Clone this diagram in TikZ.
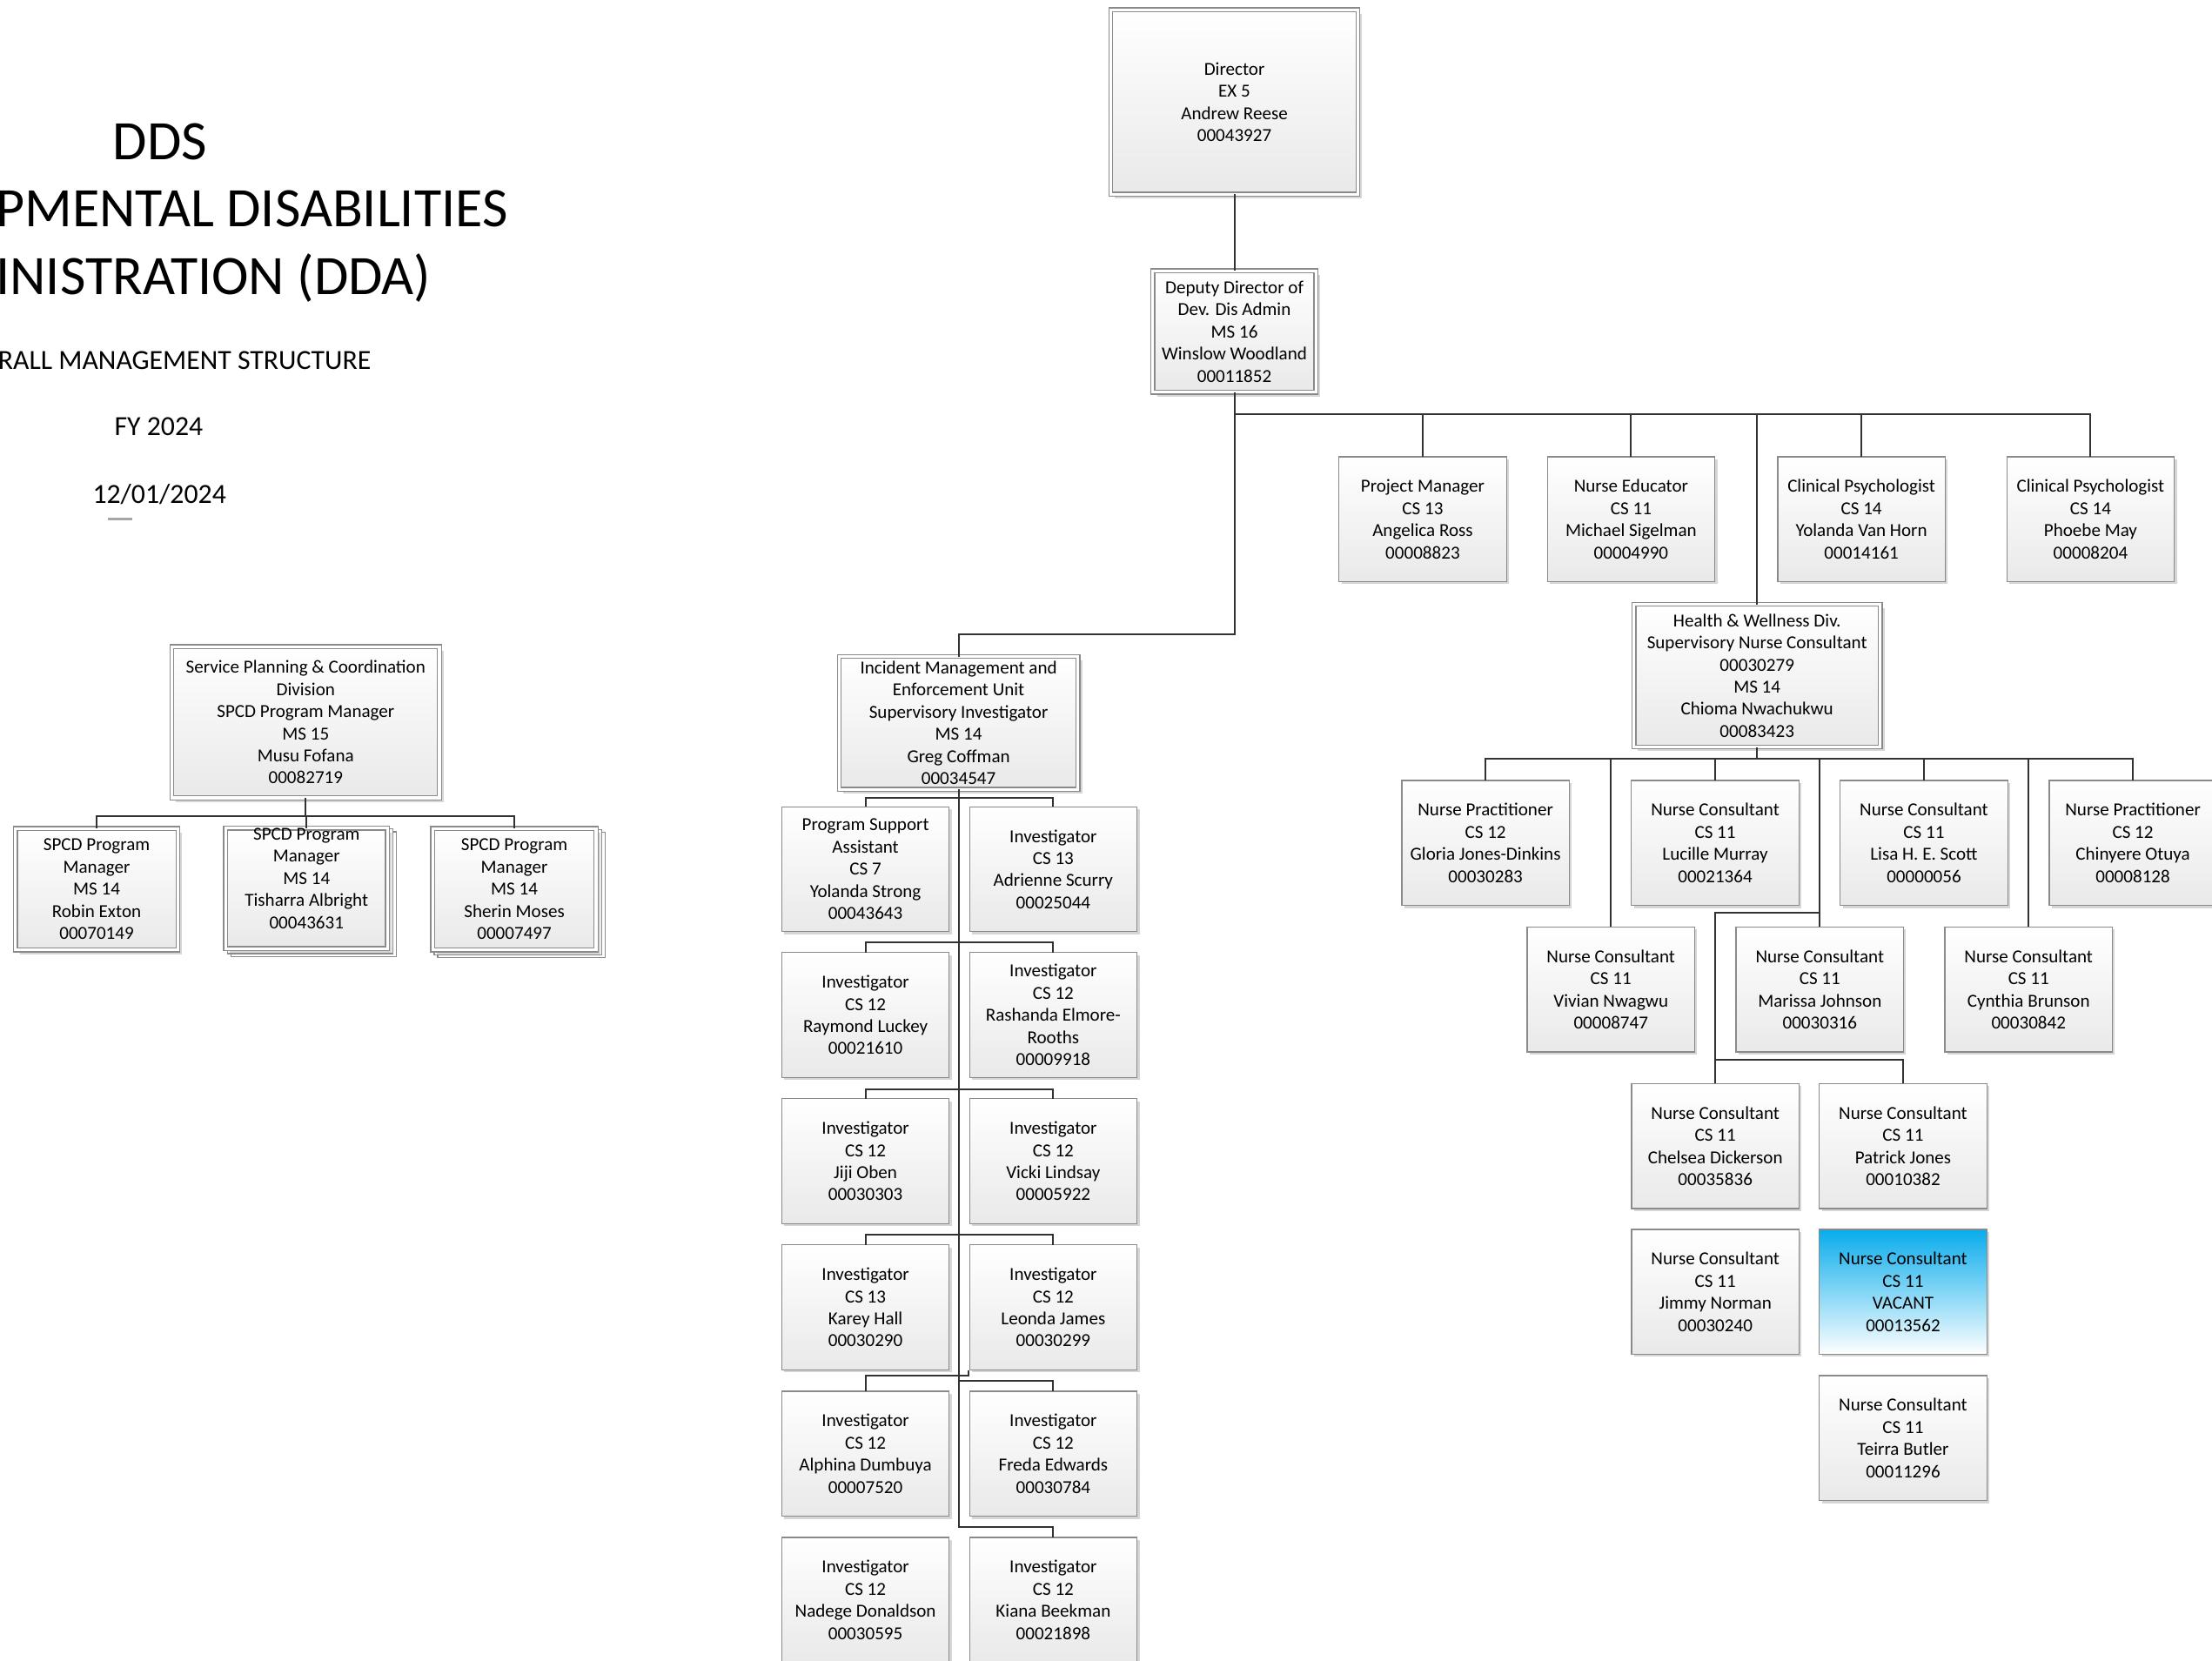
\documentclass[tikz,border=0pt]{standalone}
\usepackage{fontspec}
\setmainfont{Carlito}
\usetikzlibrary{shadows}
\definecolor{boxgray}{RGB}{138,138,138}
\definecolor{boxbot}{RGB}{233,233,233}
\definecolor{conncol}{RGB}{50,50,50}
\definecolor{vacblue}{RGB}{8,172,236}
\definecolor{shadowc}{RGB}{214,214,214}
\newcommand\bxfont{\fontsize{13}{15.7}\selectfont}
\newcommand\bigtfont{\fontsize{39.5}{47}\selectfont}
\newcommand\midtfont{\fontsize{19.6}{23}\selectfont}
\begin{document}
\begin{tikzpicture}[x=1pt,y=-1pt,
  boxbase/.style={draw=boxgray, line width=0.8pt, top color=white, bottom color=boxbot,
    inner sep=0pt, outer sep=0pt, align=center, font=\bxfont, text=black},
  obox/.style={boxbase, minimum width=118.7pt, minimum height=88.6pt,
    drop shadow={shadow xshift=1.8pt, shadow yshift=-1.8pt, fill=shadowc, opacity=1}},
  dbox/.style={boxbase, double=white, double distance=2pt,
    drop shadow={shadow xshift=3pt, shadow yshift=-3pt, fill=shadowc, opacity=1}},
  stackst/.style={draw=boxgray, line width=0.8pt, fill=white},
  conn/.style={draw=conncol, line width=1.25pt},
  ttl/.style={inner sep=0pt, text=black}]
\useasboundingbox (0,0) rectangle (1568,1177);
\clip (0,0) rectangle (1568,1177);
\fill[white] (0,0) rectangle (1568,1177);

% ---------- title ----------
\node[ttl, font=\bigtfont, anchor=base] (tDDS) at (113.5,113.1) {DDS};
\node[ttl, font=\bigtfont, anchor=base west] (tDev) at (-3,160.4) {PMENTAL DISABILITIES};
\node[ttl, font=\bigtfont, anchor=base west] (tAdm) at (-3,208.7) {INISTRATION (DDA)};
\node[ttl, font=\midtfont, anchor=base west] (tMgmt) at (-1.5,261.6) {RALL MANAGEMENT STRUCTURE};
\node[ttl, font=\midtfont, anchor=base] (tFY) at (112.5,309) {FY 2024};
\node[ttl, font=\midtfont, anchor=base] (tDate) at (113,356.6) {12/01/2024};
\draw[black!35, line width=1.4pt] (76.7,368) -- (94,368);

% ---------- top ----------
\node[dbox, minimum width=175.2pt, minimum height=130.7pt] (dir) at (875,72.3)
  {Director\\EX 5\\Andrew Reese\\00043927};
\node[dbox, minimum width=115.7pt, minimum height=86pt] (dep) at (875,235)
  {Deputy Director of\\Dev. Dis Admin\\MS 16\\Winslow Woodland\\00011852};

\node[obox] (pm) at (1008.5,368.1) {Project Manager\\CS 13\\Angelica Ross\\00008823};
\node[obox] (ne) at (1156.2,368.1) {Nurse Educator\\CS 11\\Michael Sigelman\\00004990};
\node[obox] (cp1) at (1319.5,368.1) {Clinical Psychologist\\CS 14\\Yolanda Van Horn\\00014161};
\node[obox] (cp2) at (1481.9,368.1) {Clinical Psychologist\\CS 14\\Phoebe May\\00008204};

% ---------- health & wellness ----------
\node[dbox, minimum width=174.7pt, minimum height=101.2pt] (hw) at (1245.5,479)
  {Health \& Wellness Div.\\Supervisory Nurse Consultant\\00030279\\MS 14\\Chioma Nwachukwu\\00083423};

\node[obox] (gloria) at (1053,597.6) {Nurse Practitioner\\CS 12\\Gloria Jones-Dinkins\\00030283};
\node[obox] (lucille) at (1215.8,597.6) {Nurse Consultant\\CS 11\\Lucille Murray\\00021364};
\node[obox] (lisa) at (1363.8,597.6) {Nurse Consultant\\CS 11\\Lisa H. E. Scott\\00000056};
\node[obox] (chin) at (1511.9,597.6) {Nurse Practitioner\\CS 12\\Chinyere Otuya\\00008128};

\node[obox] (vivian) at (1141.9,701.4) {Nurse Consultant\\CS 11\\Vivian Nwagwu\\00008747};
\node[obox] (marissa) at (1290,701.4) {Nurse Consultant\\CS 11\\Marissa Johnson\\00030316};
\node[obox] (cynthia) at (1438,701.4) {Nurse Consultant\\CS 11\\Cynthia Brunson\\00030842};

\node[obox] (chelsea) at (1215.9,812.4) {Nurse Consultant\\CS 11\\Chelsea Dickerson\\00035836};
\node[obox] (patrick) at (1349,812.4) {Nurse Consultant\\CS 11\\Patrick Jones\\00010382};
\node[obox] (jimmy) at (1215.9,915.8) {Nurse Consultant\\CS 11\\Jimmy Norman\\00030240};
\node[obox, top color=vacblue, bottom color=white] (vacant) at (1349,915.8) {Nurse Consultant\\CS 11\\VACANT\\00013562};
\node[obox] (teirra) at (1349,1019.5) {Nurse Consultant\\CS 11\\Teirra Butler\\00011296};

% ---------- incident management ----------
\node[dbox, minimum width=169.2pt, minimum height=94.1pt] (inc) at (679.5,512.5)
  {Incident Management and\\Enforcement Unit\\Supervisory Investigator\\MS 14\\Greg Coffman\\00034547};

\node[obox] (i1l) at (613.5,616.2) {Program Support\\Assistant\\CS 7\\Yolanda Strong\\00043643};
\node[obox] (i1r) at (746.6,616.2) {Investigator\\CS 13\\Adrienne Scurry\\00025044};
\node[obox] (i2l) at (613.5,719.6) {Investigator\\CS 12\\Raymond Luckey\\00021610};
\node[obox] (i2r) at (746.6,719.6) {Investigator\\CS 12\\Rashanda Elmore-\\Rooths\\00009918};
\node[obox] (i3l) at (613.5,823.2) {Investigator\\CS 12\\Jiji Oben\\00030303};
\node[obox] (i3r) at (746.6,823.2) {Investigator\\CS 12\\Vicki Lindsay\\00005922};
\node[obox] (i4l) at (613.5,926.8) {Investigator\\CS 13\\Karey Hall\\00030290};
\node[obox] (i4r) at (746.6,926.8) {Investigator\\CS 12\\Leonda James\\00030299};
\node[obox] (i5l) at (613.5,1030.6) {Investigator\\CS 12\\Alphina Dumbuya\\00007520};
\node[obox] (i5r) at (746.6,1030.6) {Investigator\\CS 12\\Freda Edwards\\00030784};
\node[obox] (i6l) at (613.5,1134.2) {Investigator\\CS 12\\Nadege Donaldson\\00030595};
\node[obox] (i6r) at (746.6,1134.2) {Investigator\\CS 12\\Kiana Beekman\\00021898};

% ---------- SPCD ----------
\node[dbox, minimum width=189.7pt, minimum height=107.2pt] (spcd) at (216.7,512)
  {Service Planning \& Coordination\\Division\\SPCD Program Manager\\MS 15\\Musu Fofana\\00082719};
\node[dbox, minimum width=115.2pt, minimum height=86pt] (robin) at (68.5,630.4)
  {SPCD Program\\Manager\\MS 14\\Robin Exton\\00070149};
\draw[stackst] (163.6,589.6) rectangle (281,678);
\draw[stackst] (161.1,587.6) rectangle (278.5,676);
\node[dbox, minimum width=114.6pt, minimum height=85.6pt] (tis) at (217.3,629.8) {};
\node[ttl, align=center, font=\bxfont] (tisT) at (217.3,622.6)
  {SPCD Program\\Manager\\MS 14\\Tisharra Albright\\00043631};
\draw[stackst] (310.3,590) rectangle (429,678.8);
\draw[stackst] (307.8,588) rectangle (426.5,676.8);
\node[dbox, minimum width=115.9pt, minimum height=86pt] (sherin) at (364.6,630.4)
  {SPCD Program\\Manager\\MS 14\\Sherin Moses\\00007497};

% ---------- connectors ----------
\coordinate (busD) at (875,293.6);
\coordinate (jInc) at (875,449.9);
\draw[conn] (dir) -- (dep);
\draw[conn] (dep) -- (busD) -| (pm);
\draw[conn] (busD) -| (ne);
\draw[conn] (busD) -| (cp1);
\draw[conn] (busD) -| (cp2);
\draw[conn] (busD) -| (hw);
\draw[conn] (busD) -- (jInc) -| (inc);

\coordinate (busH) at (1245.5,538);
\draw[conn] (hw) -- (busH) -| (gloria);
\draw[conn] (busH) -| (vivian);
\draw[conn] (busH) -| (lucille);
\draw[conn] (busH) -| (marissa);
\draw[conn] (busH) -| (lisa);
\draw[conn] (busH) -| (cynthia);
\draw[conn] (busH) -| (chin);
\coordinate (brA) at (1290,647.3);
\coordinate (brC) at (1215.9,751);
\draw[conn] (brA) -| (chelsea);
\draw[conn] (brC) -| (patrick);

\coordinate (r1) at (679.5,565.4);
\coordinate (r2) at (679.5,668.2);
\coordinate (r3) at (679.5,772);
\coordinate (r4) at (679.5,875.3);
\coordinate (r5a) at (679.5,975.1);
\coordinate (r5b) at (679.5,979.1);
\coordinate (r6) at (679.5,1082.4);
\draw[conn] (inc) -- (r6) -| (i6r);
\draw[conn] (i1l) |- (r1) -| (i1r);
\draw[conn] (i2l) |- (r2) -| (i2r);
\draw[conn] (i3l) |- (r3) -| (i3r);
\draw[conn] (i4l) |- (r4) -| (i4r);
\draw[conn] (i5l) |- (r5a) -- ++(7,0) -- ++(0,-3.9);
\draw[conn] (r5b) -| (i5r);

\coordinate (busS) at (216.7,578.8);
\draw[conn] (spcd) -- (busS) -| (robin);
\draw[conn] (busS) -| (tis);
\draw[conn] (busS) -| (sherin);
\end{tikzpicture}
\end{document}
